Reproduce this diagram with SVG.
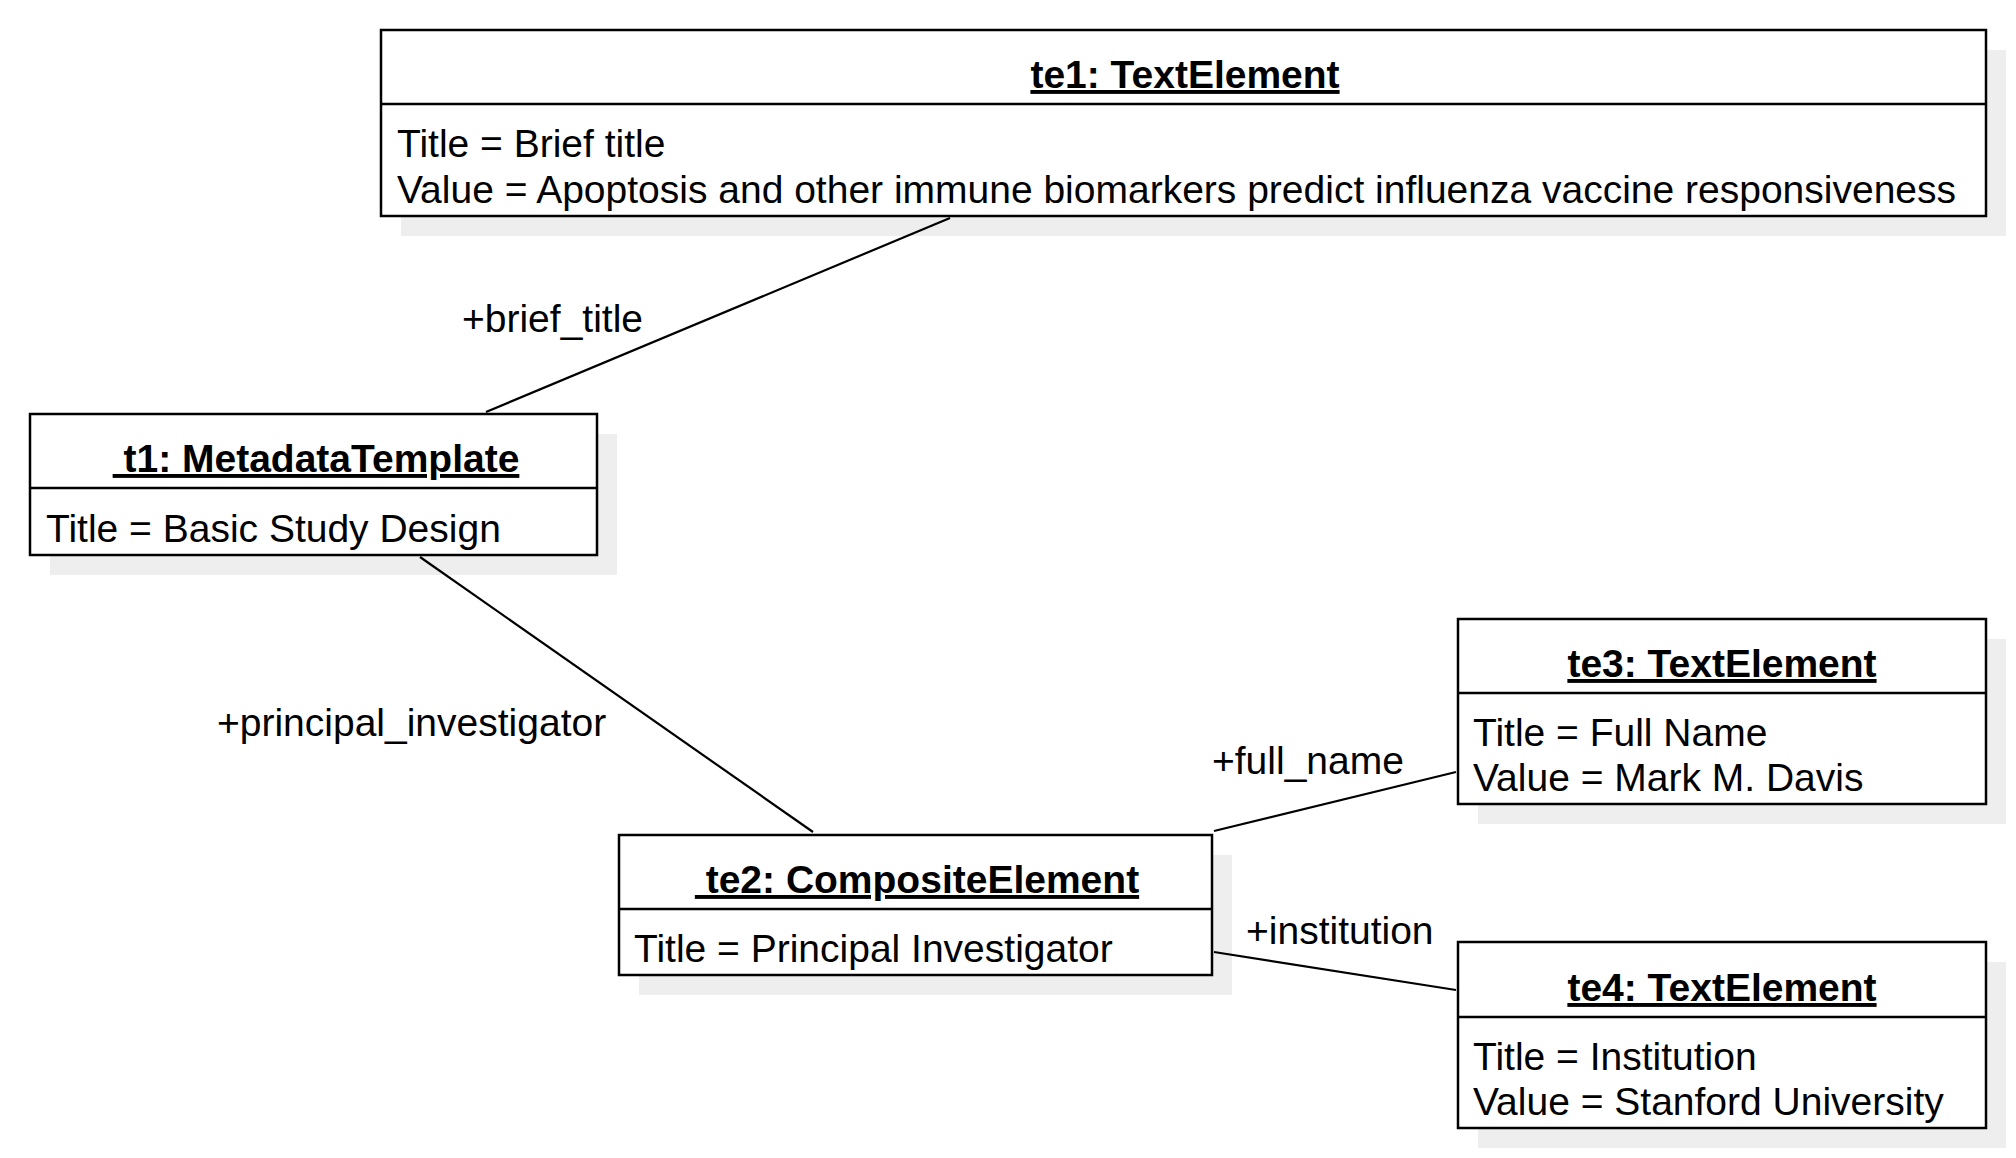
<svg xmlns="http://www.w3.org/2000/svg" width="2016" height="1158" viewBox="0 0 2016 1158">
<style>
.shadow{fill:#eeeeee;stroke:none}
.box{fill:#ffffff;stroke:#000000;stroke-width:2.5}
.div{stroke:#000000;stroke-width:2.5}
.hdr{font-family:"Liberation Sans",Arial,sans-serif;font-size:39px;font-weight:bold;text-decoration:underline;text-anchor:middle;fill:#000}
.attr{font-family:"Liberation Sans",Arial,sans-serif;font-size:39px;fill:#000}
.lbl{font-family:"Liberation Sans",Arial,sans-serif;font-size:39px;fill:#000}
.conn{stroke:#000000;stroke-width:2.2;fill:none}
</style>
<rect width="2016" height="1158" fill="#ffffff"/>
<g id="te1">
<rect class="shadow" x="401" y="50" width="1605" height="186"/>
<rect class="box" x="381" y="30" width="1605" height="186"/>
<line class="div" x1="381" y1="104" x2="1986" y2="104"/>
<text class="hdr" x="1185" y="88">te1: TextElement</text>
<text class="attr" x="397" y="157">Title = Brief title</text>
<text class="attr" x="397" y="203">Value = Apoptosis and other immune biomarkers predict influenza vaccine responsiveness</text>
</g>
<g id="t1">
<rect class="shadow" x="50" y="434" width="567" height="141"/>
<rect class="box" x="30" y="414" width="567" height="141"/>
<line class="div" x1="30" y1="488" x2="597" y2="488"/>
<text class="hdr" x="316" y="472" xml:space="preserve"> t1: MetadataTemplate</text>
<text class="attr" x="46" y="542">Title = Basic Study Design</text>
</g>
<g id="te2">
<rect class="shadow" x="639" y="855" width="593" height="140"/>
<rect class="box" x="619" y="835" width="593" height="140"/>
<line class="div" x1="619" y1="909" x2="1212" y2="909"/>
<text class="hdr" x="917" y="893" xml:space="preserve"> te2: CompositeElement</text>
<text class="attr" x="634" y="962">Title = Principal Investigator</text>
</g>
<g id="te3">
<rect class="shadow" x="1478" y="639" width="528" height="185"/>
<rect class="box" x="1458" y="619" width="528" height="185"/>
<line class="div" x1="1458" y1="693" x2="1986" y2="693"/>
<text class="hdr" x="1722" y="677">te3: TextElement</text>
<text class="attr" x="1473" y="746">Title = Full Name</text>
<text class="attr" x="1473" y="791">Value = Mark M. Davis</text>
</g>
<g id="te4">
<rect class="shadow" x="1478" y="962" width="528" height="186"/>
<rect class="box" x="1458" y="942" width="528" height="186"/>
<line class="div" x1="1458" y1="1017" x2="1986" y2="1017"/>
<text class="hdr" x="1722" y="1001">te4: TextElement</text>
<text class="attr" x="1473" y="1070">Title = Institution</text>
<text class="attr" x="1473" y="1115">Value = Stanford University</text>
</g>
<g id="connectors">
<line class="conn" x1="950" y1="218" x2="486" y2="412"/>
<line class="conn" x1="420" y1="557" x2="813" y2="832"/>
<line class="conn" x1="1214" y1="831" x2="1456" y2="772"/>
<line class="conn" x1="1214" y1="952" x2="1456" y2="990"/>
<text class="lbl" x="462" y="332">+brief_title</text>
<text class="lbl" x="217" y="736">+principal_investigator</text>
<text class="lbl" x="1212" y="774">+full_name</text>
<text class="lbl" x="1246" y="944">+institution</text>
</g>
</svg>
